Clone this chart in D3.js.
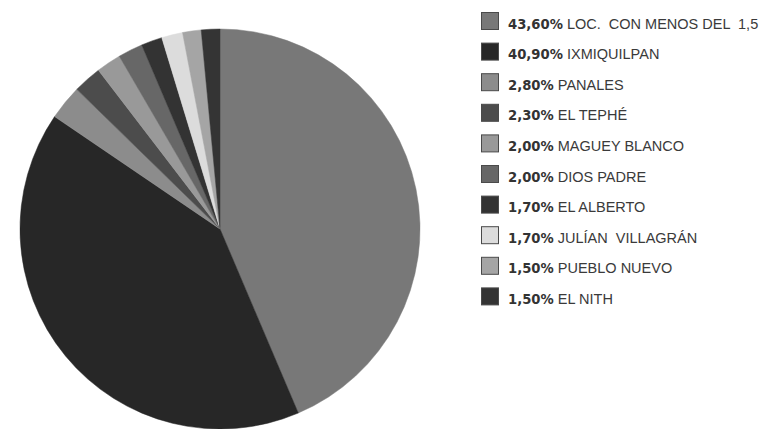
<!DOCTYPE html>
<html>
<head>
<meta charset="utf-8">
<script src="https://cdn.jsdelivr.net/npm/d3@7"></script>
<style>
  html, body { margin: 0; padding: 0; background: #ffffff; }
  svg { display: block; }
</style>
</head>
<body>
<svg id="chart" width="760" height="429"></svg>
<script>
// Localidades y su participación (%)
const localidades = [
  "LOC.  CON MENOS DEL  1,5",
  "IXMIQUILPAN",
  "PANALES",
  "EL TEPHÉ",
  "MAGUEY BLANCO",
  "DIOS PADRE",
  "EL ALBERTO",
  "JULÍAN  VILLAGRÁN",
  "PUEBLO NUEVO",
  "EL NITH"
];
const porcentajes = [43.6, 40.9, 2.8, 2.3, 2.0, 2.0, 1.7, 1.7, 1.5, 1.5];
const tonos = ["#787878", "#272727", "#8c8c8c", "#4c4c4c", "#999999",
               "#676767", "#333333", "#dcdcdc", "#a5a5a5", "#343434"];

const svg = d3.select("#chart");
const cx = 220, cy = 229, r = 200;

const datos = localidades.map((nombre, i) => ({ nombre, valor: porcentajes[i], color: tonos[i] }));

const pie = d3.pie().value(d => d.valor).sort(null);
const arc = d3.arc().innerRadius(0).outerRadius(r);

svg.append("g")
  .attr("transform", `translate(${cx},${cy})`)
  .selectAll("path")
  .data(pie(datos))
  .join("path")
  .attr("d", arc)
  .attr("fill", d => d.data.color)
  .attr("stroke", d => d.data.color)
  .attr("stroke-width", 0.5);

// Leyenda
const fila = d3.scaleBand()
  .domain(d3.range(datos.length))
  .range([12, 12 + 30.6 * datos.length]);

const fmt = v => v.toFixed(2).replace(".", ",") + "%";

const leyenda = svg.append("g")
  .selectAll("g")
  .data(datos)
  .join("g")
  .attr("transform", (d, i) => `translate(481,${fila(i)})`);

leyenda.append("rect")
  .attr("x", 0.5).attr("y", 0.5)
  .attr("width", 17).attr("height", 17)
  .attr("fill", d => d.color)
  .attr("stroke", "#4a4a4a")
  .attr("stroke-width", 1);

const txt = leyenda.append("text")
  .attr("x", 27)
  .attr("y", 16.5)
  .attr("font-family", "'DejaVu Sans', Verdana, sans-serif")
  .attr("font-size", 13.2)
  .attr("fill", "#333333")
  .style("white-space", "pre");

txt.append("tspan")
  .attr("font-weight", "bold")
  .text(d => fmt(d.valor));
txt.append("tspan")
  .attr("font-family", "'Liberation Sans', Arial, sans-serif")
  .attr("font-size", 14.5)
  .attr("fill", "#3a3a3a")
  .text(d => " " + d.nombre);
</script>
</body>
</html>
